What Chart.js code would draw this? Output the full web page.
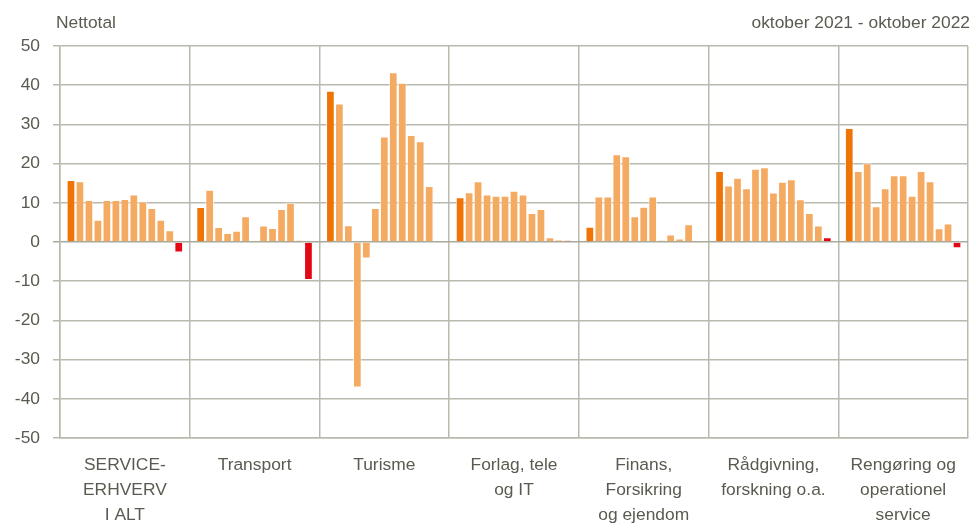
<!DOCTYPE html>
<html>
<head>
<meta charset="utf-8">
<script src="https://cdn.jsdelivr.net/npm/chart.js@4"></script>
<style>
  body { margin: 0; background: #fff; }
  #wrap { position: relative; width: 972px; height: 523px; overflow: hidden; }
  .note { position: absolute; top: 12px; font: 17.4px "Liberation Sans", Arial, sans-serif; color: #5a5a50; }
</style>
</head>
<body>
<div id="wrap">
  <canvas id="chart" width="972" height="523"></canvas>
  <div class="note" style="left:56px">Nettotal</div>
  <div class="note" style="right:2px">oktober 2021 - oktober 2022</div>
</div>
<script>
// brancher (x-akse)
const categories = [
    ['SERVICE-', 'ERHVERV', 'I ALT'],
    ['Transport'],
    ['Turisme'],
    ['Forlag, tele', 'og IT'],
    ['Finans,', 'Forsikring', 'og ejendom'],
    ['Rådgivning,', 'forskning o.a.'],
    ['Rengøring og', 'operationel', 'service']
];
const months = ['okt 2021', 'nov 2021', 'dec 2021', 'jan 2022', 'feb 2022', 'mar 2022', 'apr 2022',
    'maj 2022', 'jun 2022', 'jul 2022', 'aug 2022', 'sep 2022', 'okt 2022'];
const yTicks = [-50, -40, -30, -20, -10, 0, 10, 20, 30, 40, 50];

// nettotal pr. måned, en række pr. branche
const serviceAlt = [15.8, 15.5, 10.7, 5.7, 10.7, 10.7, 11.0, 12.1, 10.3, 8.7, 5.7, 3.0, -2.7];
const transport = [8.9, 13.3, 3.8, 2.3, 2.9, 6.6, 0.3, 4.2, 3.6, 8.4, 10.0, 0.5, -9.7];
const turisme = [38.6, 35.3, 4.3, -37.1, -4.2, 8.7, 26.9, 43.3, 40.6, 27.3, 25.7, 14.3, 0];
const forlag = [11.4, 12.7, 15.5, 12.1, 11.8, 11.8, 13.1, 12.1, 7.4, 8.4, 1.2, 0.6, 0.4];
const finans = [3.9, 11.6, 11.6, 22.4, 21.9, 6.6, 9.0, 11.6, 0.5, 1.9, 0.9, 4.5, 0];
const raadgivning = [18.1, 14.4, 16.4, 13.7, 18.7, 19.1, 12.6, 15.4, 16.0, 10.9, 7.4, 4.2, 1.2];
const rengoering = [29.1, 18.1, 20.1, 9.1, 13.7, 17.0, 17.0, 11.8, 18.1, 15.5, 3.5, 4.7, -1.6];

const groups = [serviceAlt, transport, turisme, forlag, finans, raadgivning, rengoering];

const gridColor = '#b9b9ad';
const textColor = '#5a5a50';
const font = { family: '"Liberation Sans", Arial, sans-serif', size: 17.4 };

function barColor(i) {
    if (i === 0) return '#ef7305';
    if (i === months.length - 1) return '#e30613';
    return '#f5aa62';
}

const datasets = months.map((m, i) => ({
    label: m,
    data: groups.map(g => g[i]),
    backgroundColor: barColor(i),
    borderColor: 'rgba(255,255,255,0.7)',
    borderWidth: 1,
    categoryPercentage: 0.9,
    barPercentage: 0.97
}));

new Chart(document.getElementById('chart'), {
    type: 'bar',
    data: { labels: categories, datasets: datasets },
    options: {
        responsive: false,
        animation: false,
        devicePixelRatio: 1,
        layout: { padding: { top: 46, right: 4, left: 0, bottom: 0 } },
        plugins: { legend: { display: false }, tooltip: { enabled: false } },
        scales: {
            x: {
                grid: { color: gridColor, lineWidth: 1.5, drawTicks: false, offset: true },
                border: { color: gridColor, width: 1.5 },
                ticks: { color: textColor, font: { ...font, lineHeight: 25 / 17.4 }, padding: 15, maxRotation: 0, autoSkip: false },
                afterFit: s => { s.height = 85; }
            },
            y: {
                min: -50,
                max: 50,
                afterBuildTicks: s => { s.ticks = yTicks.map(v => ({ value: v })); },
                grid: {
                    color: c => c.tick && c.tick.value === 0 ? '#a9a99c' : gridColor,
                    lineWidth: 1.5,
                    tickLength: 7
                },
                border: { color: gridColor, width: 1.5 },
                ticks: { color: textColor, font: font, padding: 13 },
                afterFit: s => { s.width = 60; }
            }
        }
    }
});
</script>
</body>
</html>
